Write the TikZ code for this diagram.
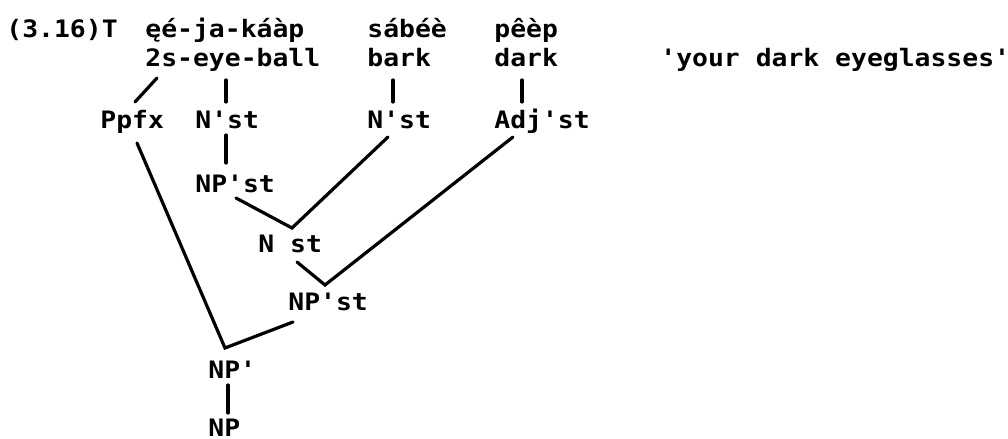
\documentclass[tikz,border=0pt]{standalone}
\usepackage{fontspec}
\setmonofont{DejaVu Sans Mono}[FakeStretch=1.1]
\usepackage{tikz}
\usetikzlibrary{calc}

\tikzset{
  word/.style={anchor=base west, inner sep=0pt, text height=8.5pt, text depth=0pt,
    font=\ttfamily\bfseries\fontsize{12pt}{14pt}\selectfont},
  branch/.style={line width=1.6pt, line cap=round}
}

\begin{document}
\begin{tikzpicture}[x=0.5pt,y=-0.5pt]
            \useasboundingbox (0,0) rectangle (1008,439);

            % Example line
            \node[word] (ex) at (6,37) {(3.16)T};
            \node[word] (w1) at (145,37) {ęé-ja-káàp};
            \node[word] (w2) at (367,37) {sábéè};
            \node[word] (w3) at (494,37) {pêèp};

            % Gloss and translation
            \node[word] (g1) at (145,67) {2s-eye-ball};
            \node[word] (g2) at (367,67) {bark};
            \node[word] (g3) at (494,67) {dark};
            \node[word] (tr) at (660,67) {'your dark eyeglasses'};

            % Stems
            \node[word] (ppfx) at (100,128) {Ppfx};
            \node[word] (nst1) at (195,128) {N'st};
            \node[word] (nst2) at (367,128) {N'st};
            \node[word] (adjst) at (494,128) {Adj'st};

            % Phrase levels
            \node[word] (npst1) at (195,192) {NP'st};
            \node[word] (nst) at (258,252) {N st};
            \node[word] (npst2) at (288,310) {NP'st};
            \node[word] (np1) at (208,378) {NP'};
            \node[word] (np) at (208,436) {NP};

            % Branches
            \draw[branch] ($(g1.base west)+(12,11)$) -- ($(ppfx.base west)+(35,-26)$);
            \draw[branch] ($(g1.base west)+(81,13)$) -- ($(nst1.base west)+(31,-26)$);
            \draw[branch] ($(g2.base west)+(26,13)$) -- ($(nst2.base west)+(26,-26)$);
            \draw[branch] ($(g3.base west)+(28,13)$) -- ($(adjst.base west)+(28,-26)$);

            \draw[branch] ($(nst1.base west)+(31,7)$) -- ($(npst1.base west)+(31,-29)$);
            \draw[branch] ($(npst1.base west)+(41,6)$) -- ($(nst.base west)+(34,-24)$)
                -- ($(nst2.base west)+(21,9)$);
            \draw[branch] ($(nst.base west)+(39,10)$) -- ($(npst2.base west)+(37,-25)$)
                -- ($(adjst.base west)+(19,9)$);
            \draw[branch] ($(npst2.base west)+(5,12)$) -- ($(np1.base west)+(17,-30)$)
                -- ($(ppfx.base west)+(37,15)$);
            \draw[branch] ($(np1.base west)+(20,7)$) -- ($(np.base west)+(20,-23)$);

\end{tikzpicture}
\end{document}
